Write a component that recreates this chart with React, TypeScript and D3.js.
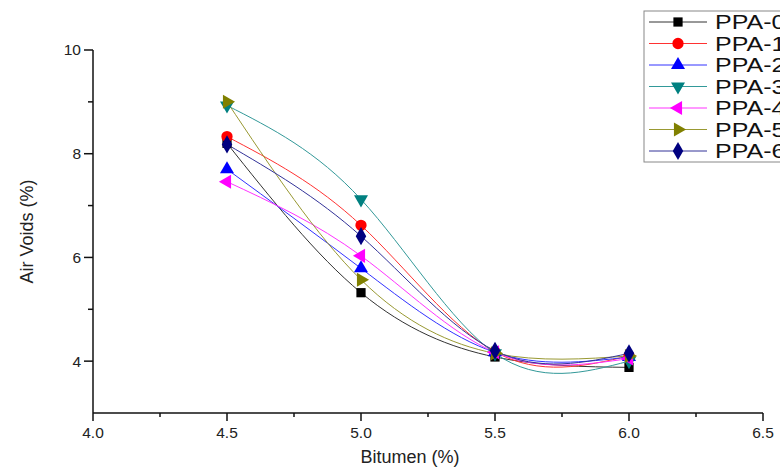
import React from "react";
import * as d3 from "d3";

const bitumen = [4.5, 5.0, 5.5, 6.0];
const seriesNames = ["PPA-0", "PPA-1", "PPA-2", "PPA-3", "PPA-4", "PPA-5", "PPA-6"];
const ppa0 = [8.2, 5.32, 4.08, 3.88];
const ppa1 = [8.33, 6.62, 4.18, 4.1];
const ppa2 = [7.7, 5.79, 4.17, 4.08];
const ppa3 = [8.93, 7.12, 4.15, 4.0];
const ppa4 = [7.46, 6.03, 4.17, 4.05];
const ppa5 = [9.0, 5.57, 4.15, 4.1];
const ppa6 = [8.18, 6.41, 4.2, 4.15];
const seriesValues = [ppa0, ppa1, ppa2, ppa3, ppa4, ppa5, ppa6];
const colors = ["#000000", "#ff0000", "#0000ff", "#008080", "#ff00ff", "#808000", "#000080"];
const xTicks = [4.0, 4.5, 5.0, 5.5, 6.0, 6.5];
const xMinor = [4.25, 4.75, 5.25, 5.75, 6.25];
const yTicks = [4, 6, 8, 10];
const yMinor = [5, 7, 9];

const W = 780;
const H = 469;
const FONT = "'Liberation Sans', Arial, sans-serif";

const x = d3.scaleLinear().domain([4.0, 6.5]).range([93, 763]);
const y = d3.scaleLinear().domain([3, 10]).range([413, 50]);

function markerPath(i: number): { d: string; rot: number } {
  const types = [
    { t: d3.symbolSquare, s: 85, rot: 0 },
    { t: d3.symbolCircle, s: 100, rot: 0 },
    { t: d3.symbolTriangle, s: 85, rot: 0 },
    { t: d3.symbolTriangle, s: 85, rot: 180 },
    { t: d3.symbolTriangle, s: 85, rot: -90 },
    { t: d3.symbolTriangle, s: 85, rot: 90 },
    { t: d3.symbolDiamond, s: 95, rot: 0 },
  ];
  const m = types[i];
  return { d: d3.symbol().type(m.t).size(m.s)() as string, rot: m.rot };
}

export default function App() {
  const line = d3
    .line<number>()
    .x((_, j) => x(bitumen[j]))
    .y((v) => y(v))
    .curve(d3.curveNatural);

  return (
    <svg width={W} height={H} style={{ display: "block", position: "absolute", left: 0, top: 0, background: "#fff" }}>
      <rect x={0} y={0} width={W} height={H} fill="#fff" />
      {/* axes */}
      <g stroke="#111" strokeWidth={1.5} fill="none">
        <line x1={x(4.0)} x2={x(4.0)} y1={y(10)} y2={y(3)} />
        <line x1={x(4.0)} x2={x(6.5)} y1={y(3)} y2={y(3)} />
        {yTicks.map((t) => (
          <line key={"yt" + t} x1={x(4.0) - 9} x2={x(4.0)} y1={y(t)} y2={y(t)} />
        ))}
        {yMinor.map((t) => (
          <line key={"ym" + t} x1={x(4.0) - 5} x2={x(4.0)} y1={y(t)} y2={y(t)} />
        ))}
        {xTicks.map((t) => (
          <line key={"xt" + t} x1={x(t)} x2={x(t)} y1={y(3)} y2={y(3) + 8} />
        ))}
        {xMinor.map((t) => (
          <line key={"xm" + t} x1={x(t)} x2={x(t)} y1={y(3)} y2={y(3) + 4} />
        ))}
      </g>
      <g fontFamily={FONT} fontSize={15.5} fill="#222">
        {yTicks.map((t) => (
          <text key={"yl" + t} x={x(4.0) - 12} y={y(t)} dy="0.35em" textAnchor="end">
            {t}
          </text>
        ))}
        {xTicks.map((t) => (
          <text key={"xl" + t} x={x(t)} y={y(3) + 25} textAnchor="middle">
            {t.toFixed(1)}
          </text>
        ))}
      </g>
      <text x={410} y={463} textAnchor="middle" fontFamily={FONT} fontSize={18} fill="#222">
        Bitumen (%)
      </text>
      <text
        transform={`translate(33, ${y(6.5)}) rotate(-90)`}
        textAnchor="middle"
        fontFamily={FONT}
        fontSize={18}
        fill="#222"
      >
        Air Voids (%)
      </text>
      {/* curves */}
      <g fill="none" strokeWidth={1} opacity={0.8}>
        {seriesValues.map((vals, i) => (
          <path key={"l" + i} d={line(vals) as string} stroke={colors[i]} />
        ))}
      </g>
      {/* markers */}
      {seriesValues.map((vals, i) => {
        const m = markerPath(i);
        return (
          <g key={"m" + i}>
            {vals.map((v, j) => (
              <path
                key={j}
                d={m.d}
                transform={`translate(${x(bitumen[j])},${y(v)}) rotate(${m.rot})`}
                fill={colors[i]}
              />
            ))}
          </g>
        );
      })}
      {/* legend */}
      <rect x={644} y={11} width={200} height={151} fill="#fff" stroke="#888" strokeWidth={1} />
      {seriesNames.map((name, i) => {
        const ly = 22 + i * 21.5;
        const m = markerPath(i);
        return (
          <g key={"lg" + i}>
            <line x1={649} x2={707} y1={ly} y2={ly} stroke={colors[i]} strokeWidth={1} opacity={0.8} />
            <path d={m.d} transform={`translate(678,${ly}) rotate(${m.rot})`} fill={colors[i]} />
            <text
              transform={`translate(715,${ly}) scale(1.25,1)`}
              dy="0.36em"
              fontFamily={FONT}
              fontSize={20}
              fill="#111"
            >
              {name}
            </text>
          </g>
        );
      })}
    </svg>
  );
}
